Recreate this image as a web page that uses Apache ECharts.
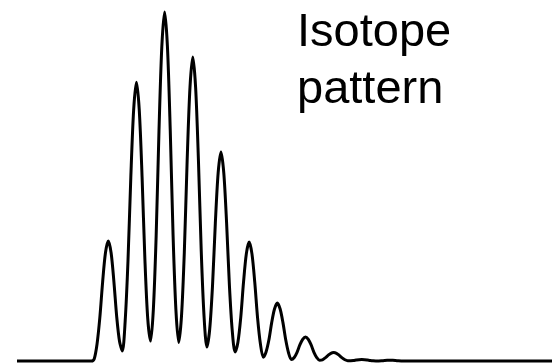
<!DOCTYPE html>
<html>
<head>
<meta charset="utf-8">
<title>Isotope pattern</title>
<script src="https://cdn.jsdelivr.net/npm/echarts@6/dist/echarts.min.js"></script>
<style>
  html, body { margin: 0; padding: 0; background: #ffffff; }
  #chart { width: 552px; height: 363px; }
</style>
</head>
<body>
<div id="chart"></div>
<script>
// Profile of the isotope envelope: mass offset (Da) from the monoisotopic peak
const massOffset = [
  -3.24, -0.6, -0.5, -0.4, -0.3, -0.2, -0.1,
  0.0, 0.1, 0.2, 0.3, 0.4, 0.5, 0.6, 0.7, 0.8, 0.9,
  1.0, 1.1, 1.2, 1.3, 1.4, 1.5, 1.6, 1.7, 1.8, 1.9,
  2.0, 2.1, 2.2, 2.3, 2.4, 2.5, 2.6, 2.7, 2.8, 2.9,
  3.0, 3.1, 3.2, 3.3, 3.4, 3.5, 3.6, 3.7, 3.8, 3.9,
  4.0, 4.1, 4.2, 4.3, 4.4, 4.5, 4.6, 4.7, 4.8, 4.9,
  5.0, 5.1, 5.2, 5.3, 5.4, 5.5, 5.6, 5.7, 5.8, 5.9,
  6.0, 6.1, 6.2, 6.3, 6.4, 6.5, 6.6, 6.7, 6.8, 6.9,
  7.0, 7.1, 7.2, 7.3, 7.4, 7.5, 7.6, 7.7, 7.8, 7.9,
  8.0, 8.1, 8.2, 8.3, 8.4, 8.5, 8.6, 8.7, 8.8, 8.9,
  9.0, 9.1, 9.2, 9.3, 9.4, 9.5, 9.6, 9.7, 9.8, 9.9,
  10.0, 10.1, 10.2, 10.3, 10.4, 10.5, 15.75
];

// Relative intensity (%) at each mass offset
const intensity = [
  0, 0, 0.6, 4.8, 12.4, 22.7, 31.0,
  34.4, 31.0, 22.7, 12.6, 5.6, 2.9, 11.5, 28.8, 52.7, 71.9,
  79.9, 71.9, 52.7, 29.1, 12.2, 5.7, 14.8, 36.0, 66.0, 90.0,
  100, 90.0, 66.0, 36.0, 14.7, 5.3, 13.0, 31.4, 57.5, 78.4,
  87.1, 78.4, 57.5, 31.4, 12.7, 4.0, 9.1, 21.6, 39.5, 53.9,
  59.9, 53.9, 39.5, 21.6, 8.7, 2.6, 5.3, 12.3, 22.5, 30.7,
  34.1, 30.7, 22.5, 12.3, 4.9, 1.1, 2.6, 6.0, 11.0, 14.9,
  16.6, 14.9, 11.0, 6.0, 2.3, 0.43, 1.0, 2.5, 4.6, 6.2,
  6.9, 6.2, 4.6, 2.5, 1.0, 0.25, 0.35, 0.9, 1.6, 2.2,
  2.4, 2.2, 1.6, 0.9, 0.35, 0.08, 0.1, 0.15, 0.28, 0.39,
  0.43, 0.39, 0.28, 0.15, 0.06, 0.02, 0.03, 0.07, 0.13, 0.18,
  0.2, 0.18, 0.13, 0.07, 0.03, 0, 0
];

const titleLines = ['Isotope', 'pattern'];

const points = massOffset.map((m, i) => [m, intensity[i]]);

const chart = echarts.init(document.getElementById('chart'), null, { renderer: 'canvas' });

chart.setOption({
  animation: false,
  backgroundColor: '#ffffff',
  grid: { left: 17, right: 0, top: 12, bottom: 2 },
  xAxis: {
    type: 'value',
    min: -3.24,
    max: 15.75,
    show: false
  },
  yAxis: {
    type: 'value',
    min: 0,
    max: 100,
    show: false
  },
  series: [{
    type: 'line',
    data: points,
    showSymbol: false,
    smooth: 0.3,
    clip: false,
    lineStyle: { color: '#000000', width: 3 }
  }],
  graphic: titleLines.map((line, i) => ({
    type: 'text',
    left: 297,
    top: 10 + i * 57,
    style: {
      text: line,
      fill: '#000000',
      font: '47px "Liberation Sans", Arial, sans-serif'
    }
  }))
});
</script>
</body>
</html>
